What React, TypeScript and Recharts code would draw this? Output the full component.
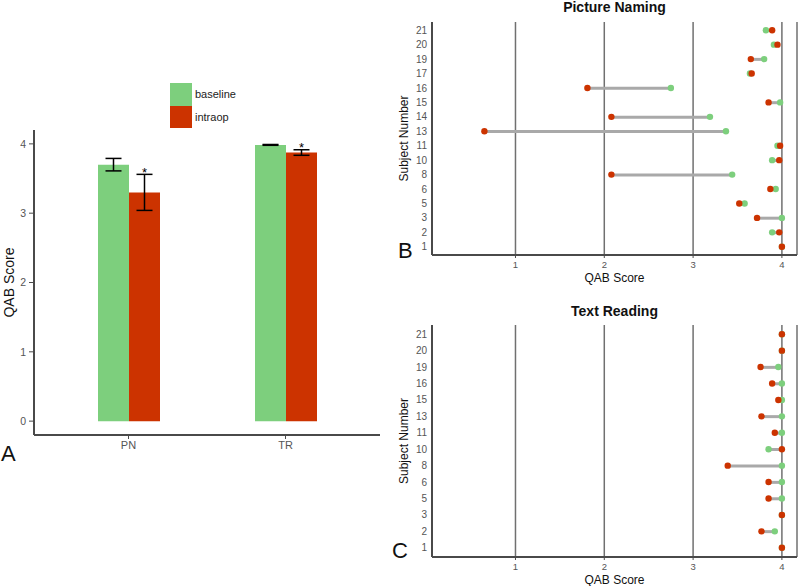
import React from 'react';
import {
  BarChart,
  Bar,
  XAxis,
  YAxis,
  ErrorBar,
  Legend,
  ComposedChart,
  Line,
  CartesianGrid,
  Label,
} from 'recharts';

const FONT = '"Liberation Sans", Arial, Helvetica, sans-serif';
const GREEN = '#7dcf7d';
const RED = '#cc3300';
const SEG = '#a9a9a9';
const AXIS = '#4a4a4a';
const TICK = '#555555';

// Panel A: group means and standard errors
const conditions = ['PN', 'TR'];
const legendLabels = ['baseline', 'intraop'];
const baselineMean = [3.7, 3.985];
const baselineSE = [0.09, 0.006];
const intraopMean = [3.3, 3.875];
const intraopSE = [0.26, 0.04];
const significant = [true, true];
const scoreTicksA = [0, 1, 2, 3, 4];

// Panel B: Picture Naming per subject
const pnSubjects = ['21', '20', '19', '17', '16', '15', '14', '13', '11', '10', '8', '6', '5', '3', '2', '1'];
const pnBaseline = [3.82, 3.91, 3.8, 3.64, 2.75, 3.98, 3.19, 3.37, 3.95, 3.89, 3.44, 3.93, 3.58, 4.0, 3.89, 4.0];
const pnIntraop = [3.89, 3.95, 3.65, 3.66, 1.81, 3.85, 2.08, 0.65, 3.98, 3.97, 2.08, 3.87, 3.52, 3.72, 3.97, 4.0];

// Panel C: Text Reading per subject
const trSubjects = ['21', '20', '19', '16', '15', '13', '11', '10', '8', '6', '5', '3', '2', '1'];
const trBaseline = [4.0, 4.0, 3.96, 4.0, 4.0, 4.0, 4.0, 3.85, 4.0, 4.0, 4.0, 4.0, 3.92, 4.0];
const trIntraop = [4.0, 4.0, 3.76, 3.89, 3.96, 3.77, 3.92, 4.0, 3.39, 3.85, 3.85, 4.0, 3.77, 4.0];

const scoreTicks = [1, 2, 3, 4];

const barData = conditions.map((c, i) => ({
  condition: c,
  baseline: baselineMean[i],
  baselineErr: baselineSE[i],
  intraop: intraopMean[i],
  intraopErr: intraopSE[i],
}));

function dumbbell(subjects: string[], base: number[], intra: number[]) {
  return subjects.map((s, i) => ({
    subject: s,
    baseline: base[i],
    intraop: intra[i],
    range: [Math.min(base[i], intra[i]), Math.max(base[i], intra[i])],
  }));
}

const pnData = dumbbell(pnSubjects, pnBaseline, pnIntraop);
const trData = dumbbell(trSubjects, trBaseline, trIntraop);

const yTitle = (text: string, dx: number, size: number) => (props: any) => {
  const vb = props.viewBox || {};
  const x = vb.x + dx;
  const y = vb.y + vb.height / 2;
  return (
    <text
      x={x}
      y={y}
      transform={`rotate(-90 ${x} ${y})`}
      textAnchor="middle"
      dominantBaseline="central"
      fontSize={size}
      fill="#111"
      fontFamily={FONT}
    >
      {text}
    </text>
  );
};

const xTitle = (text: string, dy: number, size: number) => (props: any) => {
  const vb = props.viewBox || {};
  const x = vb.x + vb.width / 2;
  const y = vb.y + dy;
  return (
    <text x={x} y={y} textAnchor="middle" dominantBaseline="central" fontSize={size} fill="#111" fontFamily={FONT}>
      {text}
    </text>
  );
};

const renderStar = (props: any) => {
  const { x, y, width, height, index } = props;
  if (!significant[index]) return <g />;
  const pxPerUnit = height / intraopMean[index];
  const top = y - intraopSE[index] * pxPerUnit;
  return (
    <text x={x + width / 2} y={top + 2.5} textAnchor="middle" fontSize={13} fill="#000" fontFamily={FONT}>
      *
    </text>
  );
};

const legendColors = [GREEN, RED];
const renderLegend = () => (
  <div style={{ fontFamily: FONT, fontSize: 11, color: '#222' }}>
    {legendLabels.map((name, i) => (
      <div key={name} style={{ display: 'flex', alignItems: 'center', height: 22.5 }}>
        <div style={{ width: 22, height: 22.5, background: legendColors[i] }} />
        <span style={{ marginLeft: 3 }}>{name}</span>
      </div>
    ))}
  </div>
);

function Dumbbell({ data, top, height, marginTop, plotHeight }: { data: any[]; top: number; height: number; marginTop: number; plotHeight: number }) {
  return (
    <div style={{ position: 'absolute', left: 396, top }}>
      <ComposedChart
        layout="vertical"
        width={404}
        height={height}
        data={data}
        margin={{ top: marginTop, right: 3, left: 4, bottom: 0 }}
        style={{ fontFamily: FONT }}
      >
        <CartesianGrid horizontal={false} vertical stroke="#707070" strokeWidth={1.5} />
        <XAxis
          type="number"
          domain={[0.06, 4.17]}
          ticks={scoreTicks}
          allowDataOverflow
          height={height - marginTop - plotHeight}
          tickSize={3}
          tickMargin={3}
          tick={{ fontSize: 9.5, fill: TICK, fontFamily: FONT }}
          axisLine={{ stroke: AXIS, strokeWidth: 2 }}
          tickLine={{ stroke: AXIS }}
        >
          <Label content={xTitle('QAB Score', 23, 12)} />
        </XAxis>
        <YAxis
          type="category"
          dataKey="subject"
          width={32}
          interval={0}
          tickSize={3}
          tickMargin={2}
          tickLine={false}
          padding={{ top: 1, bottom: 1 }}
          tick={{ fontSize: 10, fill: TICK, fontFamily: FONT }}
          axisLine={{ stroke: AXIS, strokeWidth: 2 }}
        >
          <Label content={yTitle('Subject Number', 4, 12)} />
        </YAxis>
        <Bar dataKey="range" fill={SEG} barSize={3} isAnimationActive={false} />
        <Line
          dataKey="baseline"
          stroke="none"
          dot={{ r: 3.2, fill: GREEN, stroke: 'none' }}
          activeDot={false}
          isAnimationActive={false}
        />
        <Line
          dataKey="intraop"
          stroke="none"
          dot={{ r: 3.2, fill: RED, stroke: 'none' }}
          activeDot={false}
          isAnimationActive={false}
        />
      </ComposedChart>
    </div>
  );
}

export default function App() {
  return (
    <div style={{ position: 'absolute', left: 0, top: 0, width: 800, height: 586, background: '#fff', fontFamily: FONT }}>
      <div style={{ position: 'absolute', left: 0, top: 0 }}>
        <BarChart
          width={400}
          height={470}
          data={barData}
          margin={{ top: 130, right: 20, left: 8, bottom: 5 }}
          barGap={0}
          barSize={31}
          style={{ fontFamily: FONT }}
        >
          <XAxis
            dataKey="condition"
            padding={{ left: 16, right: 16 }}
            height={30}
            tickSize={4}
            tickMargin={2}
            tick={{ fontSize: 11, fill: TICK, fontFamily: FONT }}
            axisLine={{ stroke: AXIS, strokeWidth: 2 }}
            tickLine={{ stroke: AXIS }}
          />
          <YAxis
            type="number"
            domain={[-0.2, 4.2]}
            ticks={scoreTicksA}
            allowDataOverflow
            width={26}
            tickSize={5}
            tickMargin={3}
            tick={{ fontSize: 10.5, fill: TICK, fontFamily: FONT }}
            axisLine={{ stroke: AXIS, strokeWidth: 2 }}
            tickLine={{ stroke: AXIS }}
          >
            <Label content={yTitle('QAB Score', 0.5, 14)} />
          </YAxis>
          <Legend
            layout="horizontal"
            verticalAlign="middle"
            align="center"
            content={renderLegend}
            wrapperStyle={{ left: 170, top: 83, width: 90, height: 46 }}
          />
          <Bar dataKey="baseline" fill={GREEN} isAnimationActive={false}>
            <ErrorBar dataKey="baselineErr" width={8} stroke="#000" strokeWidth={1.5} />
          </Bar>
          <Bar dataKey="intraop" fill={RED} isAnimationActive={false} label={renderStar}>
            <ErrorBar dataKey="intraopErr" width={8} stroke="#000" strokeWidth={1.5} />
          </Bar>
        </BarChart>
      </div>

      <Dumbbell data={pnData} top={0} height={290} marginTop={22} plotHeight={233} />
      <Dumbbell data={trData} top={300} height={286} marginTop={25} plotHeight={232} />

      <svg
        width={800}
        height={586}
        style={{ position: 'absolute', left: 0, top: 0, pointerEvents: 'none' }}
        fontFamily={FONT}
      >
        <text x={1} y={461} fontSize={22} fill="#111">A</text>
        <text x={398} y={258} fontSize={22} fill="#111">B</text>
        <text x={392} y={558} fontSize={22} fill="#111">C</text>
        <text x={614.5} y={11.5} fontSize={14} fontWeight="bold" textAnchor="middle" fill="#111">
          Picture Naming
        </text>
        <text x={614.5} y={315.5} fontSize={14} fontWeight="bold" textAnchor="middle" fill="#111">
          Text Reading
        </text>
      </svg>
    </div>
  );
}
